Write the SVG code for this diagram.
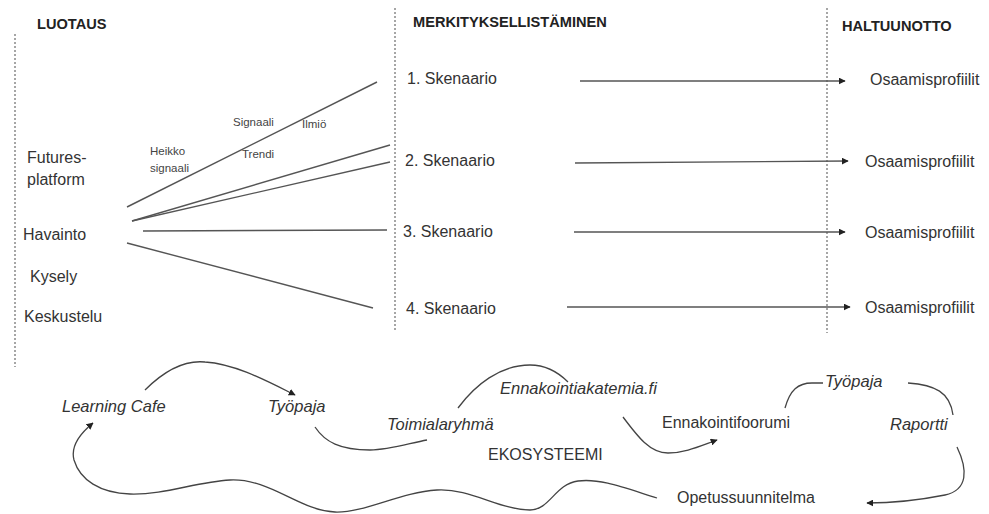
<svg xmlns="http://www.w3.org/2000/svg" width="989" height="514" viewBox="0 0 989 514">
<defs>
<style>
.t{font-family:"Liberation Sans",Arial,sans-serif;fill:#333;font-size:16px}
.h{font-family:"Liberation Sans",Arial,sans-serif;fill:#222;font-size:14.6px;font-weight:bold}
.s{font-family:"Liberation Sans",Arial,sans-serif;fill:#444;font-size:11.5px}
.i{font-family:"Liberation Sans",Arial,sans-serif;fill:#333;font-size:16.5px;font-style:italic}
.dot{stroke:#777;stroke-width:1.3;stroke-dasharray:2 2;fill:none}
.ln{stroke:#555;stroke-width:1.4;fill:none}
.cv{stroke:#444;stroke-width:1.3;fill:none}
</style>
<marker id="ah" viewBox="0 0 10 10" refX="9" refY="5" markerWidth="7" markerHeight="7" markerUnits="userSpaceOnUse" orient="auto">
<path d="M0,0 L10,5 L0,10 z" fill="#222"/>
</marker>
</defs>
<rect width="989" height="514" fill="#fff"/>

<g id="dividers">
<line class="dot" x1="15" y1="34" x2="15" y2="367"/>
<line class="dot" x1="395" y1="8" x2="395" y2="332"/>
<line class="dot" x1="827" y1="8" x2="827" y2="333"/>
</g>

<g id="headers">
<g id="h-luotaus"><text class="h" x="37" y="29">LUOTAUS</text></g>
<g id="h-merkitys"><text class="h" x="413" y="27">MERKITYKSELLISTÄMINEN</text></g>
<g id="h-haltuunotto"><text class="h" x="842" y="31">HALTUUNOTTO</text></g>
</g>

<g id="connectors">
<line class="ln" x1="127" y1="207" x2="377" y2="82"/>
<line class="ln" x1="132" y1="221" x2="390" y2="145"/>
<line class="ln" x1="132" y1="221" x2="390" y2="162"/>
<line class="ln" x1="143" y1="231" x2="387" y2="230"/>
<line class="ln" x1="127" y1="243" x2="373" y2="308"/>
<line class="ln" x1="580" y1="81" x2="845" y2="81" marker-end="url(#ah)"/>
<line class="ln" x1="575" y1="163" x2="848" y2="161" marker-end="url(#ah)"/>
<line class="ln" x1="574" y1="232" x2="845" y2="232" marker-end="url(#ah)"/>
<line class="ln" x1="567" y1="307" x2="850" y2="307" marker-end="url(#ah)"/>
<path class="cv" d="M145,390 C165,370 185,360 205,362 C235,364 265,380 295,395" marker-end="url(#ah)"/>
<path class="cv" d="M315,427 C325,442 340,450 370,450 C390,450 410,443 427,440"/>
<path class="cv" d="M458,408 C475,385 500,365 530,365 C548,365 560,374 568,382"/>
<path class="cv" d="M623,417 C638,437 650,453 668,453 C685,453 700,446 717,440" marker-end="url(#ah)"/>
<path class="cv" d="M785,408 C790,390 798,383 812,383 L823,383"/>
<path class="cv" d="M908,383 C935,385 950,392 953,415"/>
<path class="cv" d="M957,447 C968,470 968,490 945,495 C920,500 890,503 867,503" marker-end="url(#ah)"/>
<path class="cv" d="M657,498 C625,488 600,478 578,481 C555,484 550,510 530,510 C500,510 470,488 437,490 C400,492 365,513 335,512 C300,511 270,478 230,480 C195,482 165,495 130,494 C100,493 80,480 74,460 C70,445 82,432 93,423" marker-end="url(#ah)"/>
</g>

<g id="luotaus">
<g id="n-futures"><text class="t" x="27" y="163">Futures-</text><text class="t" x="27" y="185">platform</text></g>
<g id="n-havainto"><text class="t" x="23" y="240">Havainto</text></g>
<g id="n-kysely"><text class="t" x="30" y="282">Kysely</text></g>
<g id="n-keskustelu"><text class="t" x="24" y="322">Keskustelu</text></g>
<g id="n-heikko"><text class="s" x="150" y="155">Heikko</text><text class="s" x="150" y="172">signaali</text></g>
<g id="n-signaali"><text class="s" x="233" y="126">Signaali</text></g>
<g id="n-ilmio"><text class="s" x="302" y="128">Ilmiö</text></g>
<g id="n-trendi"><text class="s" x="242" y="158">Trendi</text></g>
</g>

<g id="skenaariot">
<g id="n-sk1"><text class="t" x="407" y="84" font-size="15.6">1. Skenaario</text></g>
<g id="n-sk2"><text class="t" x="405" y="166" font-size="15.6">2. Skenaario</text></g>
<g id="n-sk3"><text class="t" x="403" y="237" font-size="15.6">3. Skenaario</text></g>
<g id="n-sk4"><text class="t" x="406" y="314" font-size="15.6">4. Skenaario</text></g>
</g>

<g id="profiilit">
<g id="n-op1"><text class="t" x="870" y="85" font-size="16.6">Osaamisprofiilit</text></g>
<g id="n-op2"><text class="t" x="865" y="167" font-size="16.6">Osaamisprofiilit</text></g>
<g id="n-op3"><text class="t" x="865" y="238" font-size="16.6">Osaamisprofiilit</text></g>
<g id="n-op4"><text class="t" x="865" y="313" font-size="16.6">Osaamisprofiilit</text></g>
</g>

<g id="ekosysteemi">
<g id="n-learning"><text class="i" x="62" y="412">Learning Cafe</text></g>
<g id="n-tyopaja1"><text class="i" x="268" y="412">Työpaja</text></g>
<g id="n-toimiala"><text class="i" x="387" y="430">Toimialaryhmä</text></g>
<g id="n-akatemia"><text class="i" x="500" y="394">Ennakointiakatemia.fi</text></g>
<g id="n-foorumi"><text class="t" x="662" y="428" font-size="16.8">Ennakointifoorumi</text></g>
<g id="n-eko"><text class="t" x="488" y="460" font-size="14.9">EKOSYSTEEMI</text></g>
<g id="n-tyopaja2"><text class="i" x="825" y="387">Työpaja</text></g>
<g id="n-raportti"><text class="i" x="890" y="430">Raportti</text></g>
<g id="n-opetus"><text class="t" x="677" y="503" font-size="16.8">Opetussuunnitelma</text></g>
</g>
</svg>
